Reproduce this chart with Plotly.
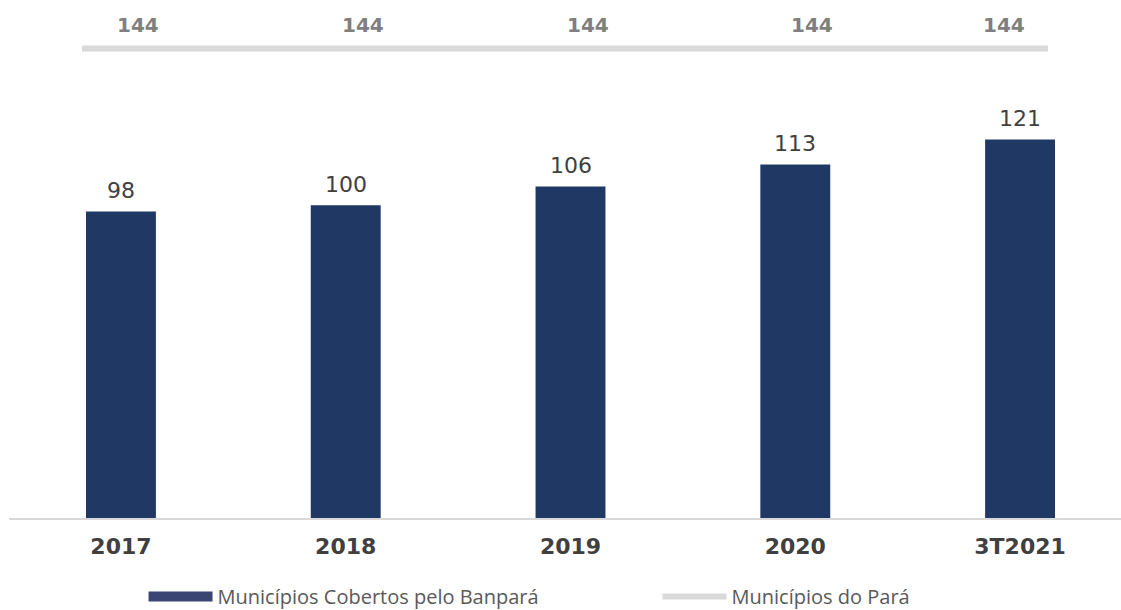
import plotly.graph_objects as go

categories = ["2017", "2018", "2019", "2020", "3T2021"]
cobertos = [98, 100, 106, 113, 121]
para_total = [144, 144, 144, 144, 144]

bar_name = "Municípios Cobertos pelo Banpará"
line_name = "Municípios do Pará"

BAR_COLOR = "#203864"
BAR_LEGEND_COLOR = "#3b4574"
LINE_COLOR = "#d9d9d9"

fig = go.Figure()
fig.add_trace(go.Bar(
    x=categories, y=cobertos, name=bar_name,
    marker=dict(color=BAR_COLOR, line=dict(width=0)),
    width=0.311, hoverinfo="skip", showlegend=False,
))
# legend entry for the bars (wide box as in the reference)
fig.add_trace(go.Scatter(
    x=[None], y=[None], name=bar_name, mode="lines",
    line=dict(color=BAR_LEGEND_COLOR, width=14), showlegend=True,
))
fig.add_trace(go.Scatter(
    x=list(range(len(para_total))), y=para_total, name=line_name,
    mode="lines", line=dict(color=LINE_COLOR, width=6),
    xaxis="x2", yaxis="y2", hoverinfo="skip",
))

# value labels above bars
for i, v in enumerate(cobertos):
    fig.add_annotation(
        x=i, y=v, xref="x", yref="y", text=str(v), showarrow=False,
        yanchor="middle", yshift=21,
        font=dict(family="DejaVu Sans", size=22, color="#404040"),
    )

# labels for the total line
label_shift = [17, 17, 17, 17, -16]
for i, v in enumerate(para_total):
    fig.add_annotation(
        x=i, y=v, xref="x", yref="y2", text=str(v), showarrow=False,
        yanchor="middle", yshift=24, xshift=label_shift[i],
        font=dict(family="DejaVu Sans", size=20, color="#7f7f7f", weight="bold"),
    )

fig.update_layout(
    width=1121, height=610,
    margin=dict(l=9, r=0, t=0, b=92, autoexpand=False),
    paper_bgcolor="white", plot_bgcolor="white",
    showlegend=True,
    legend=dict(
        orientation="h", x=0.121, xanchor="left", y=-0.114, yanchor="top",
        font=dict(family="Open Sans", size=20, color="#595959"),
        itemwidth=64, entrywidth=435, bgcolor="rgba(0,0,0,0)",
        traceorder="normal",
    ),
    xaxis=dict(
        type="category", range=[-0.498, 4.449],
        showgrid=False, zeroline=False,
        showline=True, linecolor=LINE_COLOR, linewidth=1.5,
        ticks="", ticklabelstandoff=8,
        tickfont=dict(family="DejaVu Sans", size=22, color="#404040", weight="bold"),
    ),
    yaxis=dict(range=[0, 165.6], visible=False, showgrid=False, zeroline=False),
    xaxis2=dict(range=[-0.3023, 4.3023], overlaying="x", visible=False),
    yaxis2=dict(range=[0, 158.9], overlaying="y", visible=False),
)

fig.write_html("out.html")
